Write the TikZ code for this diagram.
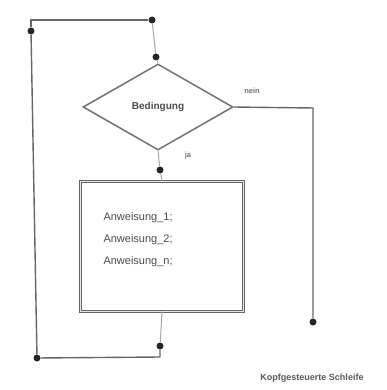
\documentclass[tikz,border=0pt]{standalone}
\usepackage{fontspec}
\setmainfont{Liberation Sans}
\usetikzlibrary{shapes.geometric}
\begin{document}
\begin{tikzpicture}[x=1pt,y=-1pt,
  flow/.style={draw=black!60,line width=1.4pt},
  faint/.style={draw=black!35,line width=1pt},
  knot/.style={circle,fill=black!85,inner sep=0pt,minimum size=7pt},
  decision/.style={diamond,draw=black!55,line width=1.5pt,minimum width=150pt,minimum height=86pt,inner sep=0pt,font=\fontsize{10}{12}\selectfont\bfseries,text=black!70},
  block/.style={draw=black!60,double=black!10,double distance=1pt,line width=1pt,minimum width=163pt,minimum height=130pt,inner sep=0pt},
  lbl/.style={font=\fontsize{7.5}{9}\selectfont\bfseries,text=black!55}]
\useasboundingbox (0,0) rectangle (387,390);
\fill[white] (0,0) rectangle (387,390);

% condition and loop body
\node[decision] (cond) at (158,107) {Bedingung};
\node[block] (body) at (162,246) {};
\node[font=\fontsize{11}{12}\selectfont,text=black!70,align=left,anchor=north west] (stmts) at (100,209)
  {Anweisung\_1;\\[10pt]Anweisung\_2;\\[10pt]Anweisung\_n;};

% junction points
\node[knot] (d1) at (31,31) {};
\node[knot] (d2) at (152,20) {};
\node[knot] (d3) at (156,57) {};
\node[knot] (d4) at (160,170) {};
\node[knot] (d5) at (313,322) {};
\node[knot] (d6) at (160,346) {};
\node[knot] (d7) at (37,358) {};
\coordinate (tl) at (31,20);
\coordinate (exitc) at (313,108);
\coordinate (bc) at (160,357);

% back edge of the loop
\draw[flow] (d1) -- (tl) -- (d2);
\draw[faint] (d2) -- (d3);
\draw[faint] (d3) -- (cond.north);
\draw[faint] (cond.south) -- (d4);
\draw[faint] (d4) -- (body.north);
\draw[faint] (body.south) -- (d6);
\draw[flow] (d6) -- (bc) -- (d7);
\draw[flow] (d7) -- (d1);

% exit branch
\draw[flow] (cond.east) -- (exitc) -- (d5);

% branch labels
\node[lbl] (no) at (252,91) {nein};
\node[lbl] (yes) at (188,156) {ja};

% caption
\node[font=\fontsize{9}{10}\selectfont\bfseries,text=black!65] (cap) at (312,378) {Kopfgesteuerte Schleife};
\end{tikzpicture}
\end{document}
